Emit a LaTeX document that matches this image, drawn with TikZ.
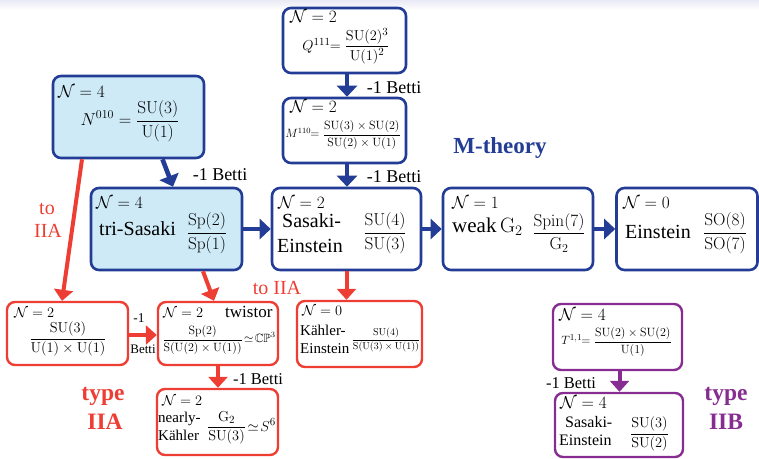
\documentclass[tikz,border=0pt]{standalone}
\usepackage[no-math]{fontspec}
\setmainfont{Liberation Serif}
\usepackage{amsmath,amssymb}
\usetikzlibrary{arrows.meta,calc}
\definecolor{mblue}{RGB}{35,60,150}
\definecolor{mred}{RGB}{238,62,52}
\definecolor{mpurple}{RGB}{135,45,145}
\definecolor{lblue}{RGB}{205,234,246}
\definecolor{band}{RGB}{234,234,246}
\newcommand{\fsz}[1]{\fontsize{#1pt}{#1pt}\selectfont}
\tikzset{
  box/.style={draw, line width=2.6pt, rounded corners=8pt, inner sep=0pt},
  bluebox/.style={box, draw=mblue},
  filledbox/.style={box, draw=mblue, fill=lblue},
  redbox/.style={box, draw=mred, line width=2.4pt},
  purplebox/.style={box, draw=mpurple, line width=2.4pt},
  txt/.style={inner sep=0pt, anchor=base west},
  eq/.style={inner sep=0pt, anchor=center},
  lbl/.style={inner sep=0pt, anchor=center},
  barrow/.style={draw=mblue, line width=4.6pt, -{Triangle[length=11pt,width=20pt]}},
  rarrow/.style={draw=mred, line width=4pt, -{Triangle[length=11pt,width=19pt]}},
  parrow/.style={draw=mpurple, line width=4pt, -{Triangle[length=11pt,width=19pt]}},
}
\begin{document}
\begin{tikzpicture}[x=1pt,y=-1pt]
\useasboundingbox (0,0) rectangle (759,458);
\shade[top color=band, bottom color=white] (0,0) rectangle (759,10);

% ---------------- boxes ----------------
\node[filledbox, minimum width=151pt, minimum height=82pt] (n010) at (128.5,117) {};
\node[bluebox, minimum width=123pt, minimum height=65pt] (q111) at (344.5,40.5) {};
\node[bluebox, minimum width=123pt, minimum height=65pt] (m110) at (344.5,130.5) {};
\node[filledbox, minimum width=151pt, minimum height=82pt] (tri) at (166.5,229) {};
\node[bluebox, minimum width=149pt, minimum height=82pt] (se) at (346.5,229) {};
\node[bluebox, minimum width=150pt, minimum height=82pt] (wg) at (518,229) {};
\node[bluebox, minimum width=141pt, minimum height=82pt] (ein) at (687,229) {};
\node[redbox, minimum width=121pt, minimum height=63pt] (r1) at (67.5,333.5) {};
\node[redbox, minimum width=120pt, minimum height=63pt] (tw) at (218,333.5) {};
\node[redbox, minimum width=121pt, minimum height=66pt] (nk) at (217.5,422) {};
\node[redbox, minimum width=125pt, minimum height=66pt] (ke) at (359.5,334) {};
\node[purplebox, minimum width=129pt, minimum height=66pt] (t11) at (617.5,337) {};
\node[purplebox, minimum width=128pt, minimum height=64pt] (se2) at (619,425) {};

% ---------------- box contents ----------------
% N010
\node[txt, font=\fsz{19}] (n010N) at (58,97) {$\mathcal{N}=4$};
\node[eq, font=\fsz{18}] (n010E) at (130,121) {$N^{010}=\dfrac{\mathrm{SU}(3)}{\mathrm{U}(1)}$};
% Q111
\node[txt, font=\fsz{16}] (q111N) at (290,22) {$\mathcal{N}=2$};
\node[eq, font=\fsz{15}] (q111E) at (346,46) {$Q^{111}\!\!=\dfrac{\mathrm{SU}(2)^3}{\mathrm{U}(1)^2}$};
% M110
\node[txt, font=\fsz{16}] (m110N) at (290,112) {$\mathcal{N}=2$};
\node[eq, font=\fsz{12}] (m110E) at (343,135) {$M^{110}\!\!=\dfrac{\mathrm{SU}(3)\times\mathrm{SU}(2)}{\mathrm{SU}(2)\times\mathrm{U}(1)}$};
% tri-Sasaki
\node[txt, font=\fsz{19}] (triN) at (96,208) {$\mathcal{N}=4$};
\node[txt, font=\fsz{20}] (triT) at (99,235) {tri-Sasaki};
\node[eq, font=\fsz{18}] (triE) at (207,233) {$\dfrac{\mathrm{Sp}(2)}{\mathrm{Sp}(1)}$};
% Sasaki-Einstein
\node[txt, font=\fsz{19}] (seN) at (278,208) {$\mathcal{N}=2$};
\node[txt, font=\fsz{20}] (seT1) at (282,227) {Sasaki-};
\node[txt, font=\fsz{20}] (seT2) at (277,252) {Einstein};
\node[eq, font=\fsz{18}] (seE) at (385,233) {$\dfrac{\mathrm{SU}(4)}{\mathrm{SU}(3)}$};
% weak G2
\node[txt, font=\fsz{19}] (wgN) at (452,208) {$\mathcal{N}=1$};
\node[txt, font=\fsz{21}] (wgT) at (452,232) {weak\,$\mathrm{G}_2$};
\node[eq, font=\fsz{18}] (wgE) at (559,233) {$\dfrac{\mathrm{Spin}(7)}{\mathrm{G}_2}$};
% Einstein
\node[txt, font=\fsz{19}] (einN) at (623,208) {$\mathcal{N}=0$};
\node[txt, font=\fsz{20}] (einT) at (625,238) {Einstein};
\node[eq, font=\fsz{18}] (einE) at (725,233) {$\dfrac{\mathrm{SO}(8)}{\mathrm{SO}(7)}$};
% r1
\node[txt, font=\fsz{15}] (r1N) at (14,317) {$\mathcal{N}=2$};
\node[eq, font=\fsz{14.5}] (r1E) at (68,339) {$\dfrac{\mathrm{SU}(3)}{\mathrm{U}(1)\times\mathrm{U}(1)}$};
% twistor
\node[txt, font=\fsz{15}] (twN) at (163,317) {$\mathcal{N}=2$};
\node[txt, font=\fsz{17}] (twT) at (225,317) {twistor};
\node[eq, font=\fsz{12}] (twE) at (219,340) {$\dfrac{\mathrm{Sp}(2)}{\mathrm{S}(\mathrm{U}(2)\times\mathrm{U}(1))}\!\simeq\!\mathbb{CP}^3$};
% nearly Kahler
\node[txt, font=\fsz{15}] (nkN) at (162,405) {$\mathcal{N}=2$};
\node[txt, font=\fsz{15}] (nkT1) at (158,422) {nearly-};
\node[txt, font=\fsz{15}] (nkT2) at (158,440) {Kähler};
\node[eq, font=\fsz{15}] (nkE) at (241.5,428) {$\dfrac{\mathrm{G}_2}{\mathrm{SU}(3)}\!\simeq\! S^6$};
% Kahler-Einstein
\node[txt, font=\fsz{15}] (keN) at (302,315) {$\mathcal{N}=0$};
\node[txt, font=\fsz{15}] (keT1) at (300,335) {Kähler-};
\node[txt, font=\fsz{15}] (keT2) at (300,353) {Einstein};
\node[eq, font=\fsz{10}] (keE) at (386,340) {$\dfrac{\mathrm{SU}(4)}{\mathrm{S}(\mathrm{U}(3)\times\mathrm{U}(1))}$};
% T11
\node[txt, font=\fsz{16}] (t11N) at (559,320) {$\mathcal{N}=4$};
\node[eq, font=\fsz{13}] (t11E) at (616.5,342) {$T^{1,1}\!\!=\dfrac{\mathrm{SU}(2)\times\mathrm{SU}(2)}{\mathrm{U}(1)}$};
% SE IIB
\node[txt, font=\fsz{16}] (se2N) at (560,408) {$\mathcal{N}=4$};
\node[txt, font=\fsz{16}] (se2T1) at (565,427) {Sasaki-};
\node[txt, font=\fsz{16}] (se2T2) at (559,445) {Einstein};
\node[eq, font=\fsz{14.5}] (se2E) at (649.5,434) {$\dfrac{\mathrm{SU}(3)}{\mathrm{SU}(2)}$};

% ---------------- arrows ----------------
\draw[barrow] ([xshift=34pt]n010.south) -- ([xshift=6.5pt]tri.north);
\draw[barrow] ([xshift=2.5pt]q111.south) -- ([xshift=2.5pt]m110.north);
\draw[barrow] ([xshift=2.5pt]m110.south) -- ([xshift=2.5pt]m110.south |- se.north);
\draw[barrow] (tri.east) -- (se.west);
\draw[barrow] (se.east) -- (wg.west);
\draw[barrow] (wg.east) -- (ein.west);
\draw[rarrow] ([xshift=-46.5pt]n010.south) -- ([xshift=-5.5pt]r1.north);
\draw[rarrow] ([xshift=36.5pt]tri.south) -- ([xshift=-4pt]tw.north);
\draw[rarrow] (se.south) -- (se.south |- ke.north);
\draw[rarrow] ([yshift=-1.5pt]r1.east) -- ([yshift=-1.5pt]r1.east -| tw.west);
\draw[rarrow] (tw.south) -- (tw.south |- nk.north);
\draw[parrow] ([xshift=2pt]t11.south) -- ([xshift=2pt]t11.south |- se2.north);

% ---------------- labels ----------------
\node[lbl, font=\fsz{18}] (b1) at (220,175) {-1 Betti};
\node[lbl, font=\fsz{18}] (b2) at (394,88) {-1 Betti};
\node[lbl, font=\fsz{18}] (b3) at (394,177) {-1 Betti};
\node[lbl, font=\fsz{16.5}] (b4) at (258,379) {-1 Betti};
\node[lbl, font=\fsz{16.5}] (b5) at (571,383) {-1 Betti};
\node[lbl, font=\fsz{13.5}] (b6a) at (139,318) {-1};
\node[lbl, font=\fsz{13}] (b6b) at (143,349) {Betti};
\node[lbl, font=\fsz{20}, text=mred] (to1) at (47,209) {to};
\node[lbl, font=\fsz{20}, text=mred] (to2) at (48,231) {IIA};
\node[lbl, font=\fsz{20}, text=mred] (to3) at (277,288) {to IIA};
\node[lbl, font=\bfseries\fsz{23.5}, text=mred] (ty1) at (103,396) {type};
\node[lbl, font=\bfseries\fsz{23.5}, text=mred] (ty2) at (105,422) {IIA};
\node[lbl, font=\bfseries\fsz{23.5}, text=mpurple] (ty3) at (726,396) {type};
\node[lbl, font=\bfseries\fsz{23.5}, text=mpurple] (ty4) at (726,422) {IIB};
\node[lbl, font=\bfseries\fsz{23}, text=mblue] (mth) at (500,148) {M-theory};
\end{tikzpicture}
\end{document}
